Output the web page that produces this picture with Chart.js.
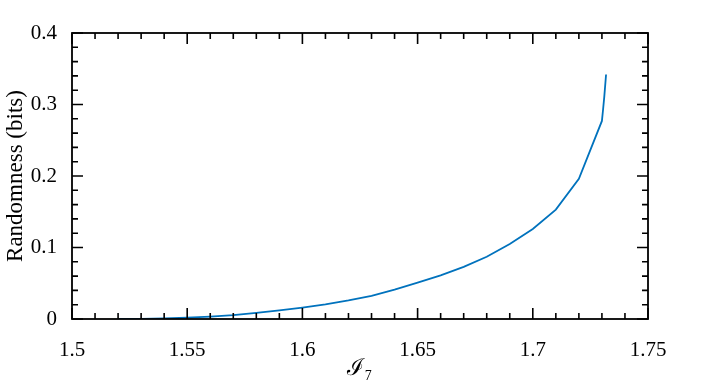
<!DOCTYPE html>
<html>
<head>
  <title>Randomness vs I7</title>
  <script src="https://cdn.jsdelivr.net/npm/chart.js"></script>
  <style>
    html, body { margin: 0; padding: 0; background: #fff; }
    #wrap { width: 702px; height: 386px; }
  </style>
</head>
<body>
  <div id="wrap"><canvas id="chart"></canvas></div>

  <script>
    // values
    const iValues = [1.52, 1.53, 1.54, 1.55, 1.56, 1.57, 1.58, 1.59, 1.60, 1.61, 1.62,
                     1.63, 1.64, 1.65, 1.66, 1.67, 1.68, 1.69, 1.70, 1.71, 1.72, 1.73,
                     1.7305, 1.731, 1.7318];
    const randomness = [0, 0.0002, 0.0007, 0.0018, 0.0033, 0.0055, 0.0085, 0.0122, 0.016, 0.0205, 0.026,
                        0.0325, 0.041, 0.051, 0.061, 0.073, 0.087, 0.105, 0.126, 0.153, 0.196, 0.277,
                        0.293, 0.31, 0.342];

    const xTicks = [1.5, 1.55, 1.6, 1.65, 1.7, 1.75];
    const xTickLabels = ['1.5', '1.55', '1.6', '1.65', '1.7', '1.75'];
    const yTicks = [0, 0.1, 0.2, 0.3, 0.4];
    const yTickLabels = ['0', '0.1', '0.2', '0.3', '0.4'];

    const serif = '"Liberation Serif", "DejaVu Serif", serif';

    // box round the plot with inward major and minor ticks on all sides
    const frame = {
      id: 'frame',
      afterDatasetsDraw(chart) {
        const { ctx, chartArea: a, scales: { x, y } } = chart;
        ctx.save();
        ctx.strokeStyle = '#000';
        ctx.lineWidth = 1.6;
        ctx.beginPath();
        for (let i = 0; i <= 25; i++) {
          const px = x.getPixelForValue(1.5 + i * 0.01);
          const len = i % 5 === 0 ? 11 : 6;
          ctx.moveTo(px, a.bottom); ctx.lineTo(px, a.bottom - len);
          ctx.moveTo(px, a.top); ctx.lineTo(px, a.top + len);
        }
        for (let i = 0; i <= 20; i++) {
          const py = y.getPixelForValue(i * 0.02);
          const len = i % 5 === 0 ? 11 : 6;
          ctx.moveTo(a.left, py); ctx.lineTo(a.left + len, py);
          ctx.moveTo(a.right, py); ctx.lineTo(a.right - len, py);
        }
        ctx.stroke();
        ctx.lineWidth = 1.8;
        ctx.strokeRect(a.left, a.top, a.right - a.left, a.bottom - a.top);
        ctx.restore();
      }
    };

    new Chart(document.getElementById('chart'), {
      type: 'scatter',
      data: {
        datasets: [{
          data: iValues.map((v, i) => ({ x: v, y: randomness[i] })),
          showLine: true,
          borderColor: '#0072BD',
          borderWidth: 1.8,
          pointRadius: 0,
          tension: 0
        }]
      },
      options: {
        responsive: true,
        maintainAspectRatio: false,
        animation: false,
        layout: { padding: { top: 33, right: 54, left: 0, bottom: 0 } },
        plugins: { legend: { display: false }, tooltip: { enabled: false } },
        scales: {
          x: {
            type: 'linear',
            min: 1.5, max: 1.75,
            afterBuildTicks: s => { s.ticks = xTicks.map(v => ({ value: v })); },
            afterFit: s => { s.height = 67; },
            grid: { display: false },
            border: { display: false },
            ticks: {
              padding: 11,
              color: '#000',
              font: { family: serif, size: 21 },
              maxRotation: 0,
              callback: (v, i) => xTickLabels[i]
            },
            title: {
              display: true,
              text: 'ℐ₇',
              color: '#000',
              font: { family: serif, size: 23 },
              padding: { top: 0, bottom: 3 }
            }
          },
          y: {
            min: 0, max: 0.4,
            afterBuildTicks: s => { s.ticks = yTicks.map(v => ({ value: v })); },
            afterFit: s => { s.width = 72; },
            grid: { display: false },
            border: { display: false },
            ticks: {
              padding: 7,
              color: '#000',
              font: { family: serif, size: 21 },
              callback: (v, i) => yTickLabels[i]
            },
            title: {
              display: true,
              text: 'Randomness (bits)',
              color: '#000',
              font: { family: serif, size: 23 },
              padding: { top: 2, bottom: 0 }
            }
          }
        }
      },
      plugins: [frame]
    });
  </script>
</body>
</html>
